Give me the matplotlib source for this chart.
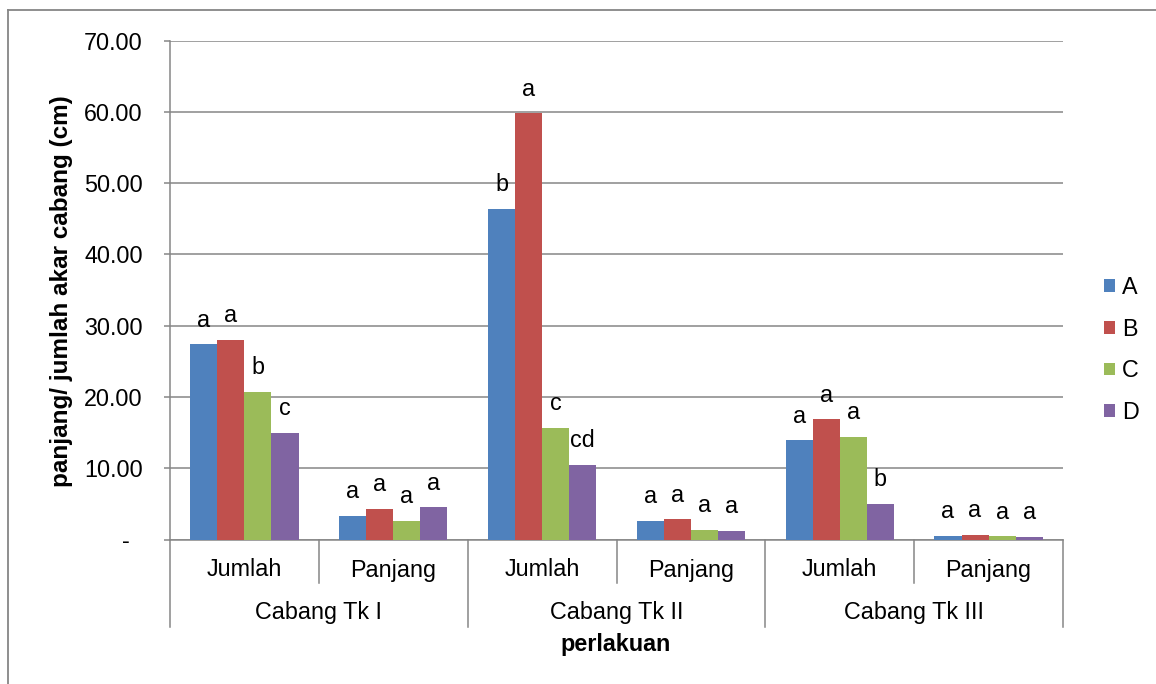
import matplotlib
matplotlib.use("Agg")
import matplotlib.pyplot as plt
import matplotlib.transforms as mtransforms
from matplotlib.lines import Line2D
import numpy as np

plt.rcParams['font.family'] = ['Liberation Sans', 'DejaVu Sans']

# Categories: inner level (measure) and outer level (branch order)
inner_labels = ["Jumlah", "Panjang", "Jumlah", "Panjang", "Jumlah", "Panjang"]
outer_labels = ["Cabang Tk I", "Cabang Tk II", "Cabang Tk III"]
series_names = ["A", "B", "C", "D"]

vals_A = [27.4, 3.3, 46.4, 2.65, 13.9, 0.50]
vals_B = [28.0, 4.3, 59.8, 2.85, 16.9, 0.70]
vals_C = [20.7, 2.6, 15.7, 1.35, 14.4, 0.45]
vals_D = [15.0, 4.5, 10.5, 1.25, 5.0, 0.40]

letters_A = ["a", "a", "b", "a", "a", "a"]
letters_B = ["a", "a", "a", "a", "a", "a"]
letters_C = ["b", "a", "c", "a", "a", "a"]
letters_D = ["c", "a", "cd", "a", "b", "a"]

y_ticks = [0, 10, 20, 30, 40, 50, 60, 70]

colors = ["#4F81BD", "#C0504D", "#9BBB59", "#8064A2"]
grey = "#868686"
fs = 16.8

W, H = 1156, 684
fig = plt.figure(figsize=(W / 100, H / 100), dpi=100)
ax = fig.add_axes([170 / W, (H - 539.5) / H, (1063 - 170) / W, (539.5 - 40.7) / H])

values = [vals_A, vals_B, vals_C, vals_D]
letters = [letters_A, letters_B, letters_C, letters_D]
n_cat = len(inner_labels)
x = np.arange(n_cat) + 0.5
bw = 1 / 5.5

handles = []
for j, (vals, lets) in enumerate(zip(values, letters)):
    pos = x + (j - 1.5) * bw
    b = ax.bar(pos, vals, width=bw, color=colors[j], edgecolor="none",
               label=series_names[j], zorder=3)
    handles.append(b)
    for px, v, t in zip(pos, vals, lets):
        ax.annotate(t, (px, v), xytext=(0, 12.6), textcoords="offset points",
                    ha="center", va="baseline", fontsize=fs, color="black")

ax.set_xlim(0, n_cat)
ax.set_ylim(0, 70)
ax.set_yticks(y_ticks)
ax.set_yticklabels([f"{v:.2f}" if v else "-  " for v in y_ticks], fontsize=fs)
ax.tick_params(axis="y", direction="out", length=4.5, width=1.1, color=grey, pad=15)
ax.set_xticks([])
ax.yaxis.grid(True, color=grey, linewidth=1.1, zorder=0)
ax.set_axisbelow(True)
for s in ["top", "right"]:
    ax.spines[s].set_visible(False)
for s in ["left", "bottom"]:
    ax.spines[s].set_color(grey)
    ax.spines[s].set_linewidth(1.1)

# Multi-level category axis
trans = mtransforms.blended_transform_factory(ax.transData, ax.transAxes)
px_h = 539.5 - 40.7
def ay(py):
    return (539.5 - py) / px_h

for k in range(0, n_cat + 1, 2):
    ax.add_line(Line2D([k, k], [0, ay(627)], transform=trans, color=grey,
                       linewidth=1.1, clip_on=False))
for k in range(1, n_cat, 2):
    ax.add_line(Line2D([k, k], [0, ay(583)], transform=trans, color=grey,
                       linewidth=1.1, clip_on=False))
for xi, lab in zip(x, inner_labels):
    ax.text(xi, ay(570), lab, transform=trans, ha="center", va="center", fontsize=fs)
for g, lab in enumerate(outer_labels):
    ax.text(2 * g + 1, ay(612), lab, transform=trans, ha="center", va="center", fontsize=fs)

fig.text(616 / W, 1 - 645 / H, "perlakuan", ha="center", va="center",
         fontsize=fs, fontweight="bold")
fig.text(62 / W, 1 - 291 / H, "panjang/ jumlah akar cabang (cm)", ha="center",
         va="center", rotation=90, fontsize=17.5, fontweight="bold")

leg = fig.legend(handles=handles, labels=series_names, loc="center left",
                 bbox_to_anchor=(1104 / W, 1 - 350 / H), frameon=False,
                 fontsize=fs, handlelength=0.46, handleheight=0.46,
                 handletextpad=0.3, labelspacing=0.8, borderpad=0, borderaxespad=0)

# Chart frame
fig.add_artist(Line2D([8 / W, 1], [1 - 10 / H, 1 - 10 / H], color=grey, linewidth=1.3))
fig.add_artist(Line2D([8 / W, 8 / W], [0, 1 - 10 / H], color=grey, linewidth=1.3))

fig.savefig("out.png", dpi=100)
